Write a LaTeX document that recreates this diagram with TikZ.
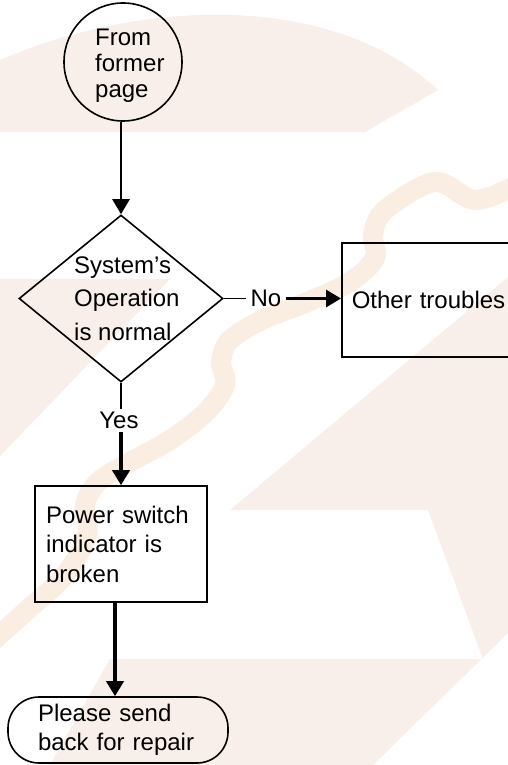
\documentclass[tikz,border=0pt]{standalone}
\usepackage{fontspec}
\setmainfont{Liberation Sans}
\usetikzlibrary{shapes.geometric,arrows.meta}
\definecolor{wmpink}{RGB}{248,238,234}
\definecolor{wmpeach}{RGB}{250,238,226}
\newcommand\ftxt{\fontsize{24pt}{29.5pt}\selectfont}
\begin{document}
\begin{tikzpicture}[x=1pt,y=-1pt,
  flow/.style={draw=black, line width=1.6pt, inner sep=0pt},
  lbl/.style={font=\ftxt, inner sep=0pt, align=left, anchor=base west},
  conn/.style={line width=1.5pt},
  tipbig/.style={-{Triangle[length=15pt,width=17pt]}},
  wmband/.style={draw=wmpeach, line width=20pt, line join=round, line cap=round}
]
\useasboundingbox (0,0) rectangle (508,765);
\clip (0,0) rectangle (508,765);
\fill[white] (0,0) rectangle (508,765);
% faint watermark
\fill[wmpink] (0,60) .. controls (140,0) and (330,-10) .. (438,90) -- (365,132) -- (0,132) -- cycle;
\fill[wmpink] (0,279) -- (170,279) -- (0,456) -- cycle;
\fill[wmpink] (230,510) -- (508,277) -- (508,633) -- (373,765) -- (50,765) -- (110,659) -- (483,659) -- (428,510) -- cycle;
\draw[wmband] plot[smooth, tension=0.55] coordinates {(530,178) (477,200) (435,182) (385,210) (373,235) (375,258) (350,282) (305,303) (262,320) (230,340) (221,362) (225,385) (205,413) (170,440) (130,462) (98,482) (85,505) (87,535) (65,575) (25,612) (-15,648)};
% shapes
\node[flow, circle, minimum size=118pt] (circ) at (123,62) {};
\node[lbl, font={\fontsize{24pt}{25.75pt}\selectfont}] (circT) at (95,97.5) {From\\former\\page};
\node[flow, diamond, minimum width=204pt, minimum height=167pt] (dec) at (121,298.5) {};
\node[lbl, font={\fontsize{24pt}{33.5pt}\selectfont}] (decT) at (74,340) {System’s\\Operation\\is normal};
\node[flow, anchor=north west, minimum width=200pt, minimum height=114pt, text width=180pt, inner xsep=10pt, align=left, font=\ftxt] (other) at (341,242) {Other troubles};
\node[font=\ftxt, inner xsep=4pt, inner ysep=0pt] (no) at (266,298.5) {No};
\node[font=\ftxt, inner sep=3pt] (yes) at (119,420.5) {Yes};
\node[flow, minimum width=172pt, minimum height=116pt, text width=150pt, inner xsep=11pt, align=left, font=\ftxt] (pw) at (121,544) {Power switch\\indicator is\\broken};
\node[flow, rounded corners=31pt, minimum width=220pt, minimum height=66pt, text width=160pt, inner xsep=30pt, align=left, font=\ftxt] (term) at (118,730) {Please send\\back for repair};
% connectors
\draw[line width=2.4pt, tipbig] (dec.north |- circ.south) -- (dec.north);
\draw[conn] (dec.east) -- (no.west);
\draw[line width=3pt, tipbig] (no.east) -- (no.east -| other.west);
\draw[conn] (dec.south) -- (dec.south |- yes.north);
\draw[line width=4.5pt, tipbig] (yes.south -| pw.north) -- (pw.north);
\draw[line width=4.5pt, tipbig] ([xshift=-6pt]pw.south) -- ([xshift=-6pt]pw.south |- term.north);
\end{tikzpicture}
\end{document}
